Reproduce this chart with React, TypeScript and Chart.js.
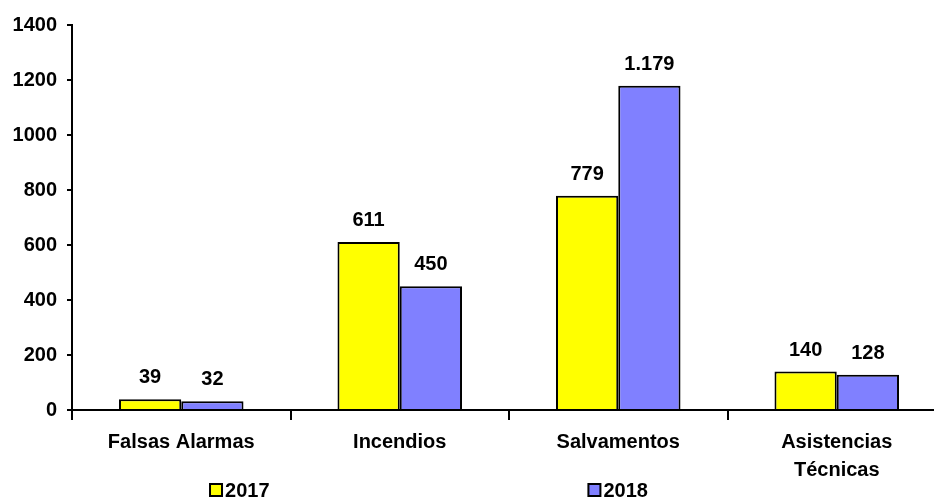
import React, { useEffect, useRef } from "react";
import { Chart, registerables } from "chart.js";

Chart.register(...registerables);

const categories: (string | string[])[] = [
  "Falsas Alarmas",
  "Incendios",
  "Salvamentos",
  ["Asistencias", "Técnicas"],
];
const series2017 = [39, 611, 779, 140];
const series2018 = [32, 450, 1179, 128];
const seriesLabels = ["2017", "2018"];
const yTicks = [0, 200, 400, 600, 800, 1000, 1200, 1400];

const FONT = "'Liberation Sans', Arial, sans-serif";

const fmt = (v: number) => v.toLocaleString("de-DE");

const valueLabels = {
  id: "valueLabels",
  afterDatasetsDraw(chart: any) {
    const ctx = chart.ctx;
    ctx.save();
    ctx.font = `bold 20px ${FONT}`;
    ctx.fillStyle = "#000";
    ctx.textAlign = "center";
    ctx.textBaseline = "alphabetic";
    chart.data.datasets.forEach((ds: any, i: number) => {
      const meta = chart.getDatasetMeta(i);
      meta.data.forEach((bar: any, j: number) => {
        ctx.fillText(fmt(ds.data[j]), bar.x, bar.y - 16);
      });
    });
    ctx.restore();
  },
};

const customLegend = {
  id: "customLegend",
  afterDraw(chart: any) {
    const ctx = chart.ctx;
    const w = chart.width;
    const fracs = [0.222, 0.622];
    const y = 490;
    ctx.save();
    ctx.font = `bold 20px ${FONT}`;
    ctx.textAlign = "left";
    ctx.textBaseline = "middle";
    chart.data.datasets.forEach((ds: any, i: number) => {
      const x = w * fracs[i];
      ctx.fillStyle = ds.backgroundColor;
      ctx.fillRect(x, y - 6, 12, 12);
      ctx.lineWidth = 2;
      ctx.strokeStyle = "#000";
      ctx.strokeRect(x, y - 6, 12, 12);
      ctx.fillStyle = "#000";
      ctx.fillText(ds.label, x + 15, y + 1);
    });
    ctx.restore();
  },
};

export default function App() {
  const canvasRef = useRef<HTMLCanvasElement | null>(null);

  useEffect(() => {
    if (!canvasRef.current) return;
    const chart = new Chart(canvasRef.current, {
      type: "bar",
      data: {
        labels: categories,
        datasets: [
          {
            label: seriesLabels[0],
            data: series2017,
            backgroundColor: "#FFFF00",
            borderColor: "#000",
            borderWidth: 2,
            categoryPercentage: 0.57,
            barPercentage: 1,
          },
          {
            label: seriesLabels[1],
            data: series2018,
            backgroundColor: "#8080FF",
            borderColor: "#000",
            borderWidth: 2,
            categoryPercentage: 0.57,
            barPercentage: 1,
          },
        ],
      },
      options: {
        responsive: false,
        animation: false,
        layout: { padding: { top: 25, left: 0, right: 0, bottom: 0 } },
        plugins: {
          legend: { display: false },
          tooltip: { enabled: false },
        },
        scales: {
          x: {
            offset: true,
            grid: {
              offset: true,
              drawOnChartArea: false,
              drawTicks: true,
              tickLength: 10,
              color: "#000",
              lineWidth: 2,
            },
            border: { color: "#000", width: 2 },
            ticks: {
              color: "#000",
              padding: 8,
              maxRotation: 0,
              autoSkip: false,
              font: { family: FONT, size: 20, weight: "bold", lineHeight: 1.4 },
            },
            afterFit(scale: any) {
              scale.height = 87;
            },
          },
          y: {
            min: 0,
            max: 1400,
            afterBuildTicks(scale: any) {
              scale.ticks = yTicks.map((v) => ({ value: v }));
            },
            grid: {
              drawOnChartArea: false,
              drawTicks: true,
              tickLength: 5,
              color: "#000",
              lineWidth: 2,
            },
            border: { color: "#000", width: 2 },
            ticks: {
              color: "#000",
              padding: 10,
              font: { family: FONT, size: 20, weight: "bold" },
              callback: (v: any) => String(v),
            },
            afterFit(scale: any) {
              scale.width = 72;
            },
          },
        },
      },
      plugins: [valueLabels, customLegend],
    });
    return () => chart.destroy();
  }, []);

  return (
    <div
      style={{
        position: "fixed",
        top: 0,
        left: 0,
        width: 934,
        height: 497,
        overflow: "hidden",
        background: "#fff",
      }}
    >
      <canvas ref={canvasRef} width={946} height={497} style={{ display: "block" }} />
    </div>
  );
}
